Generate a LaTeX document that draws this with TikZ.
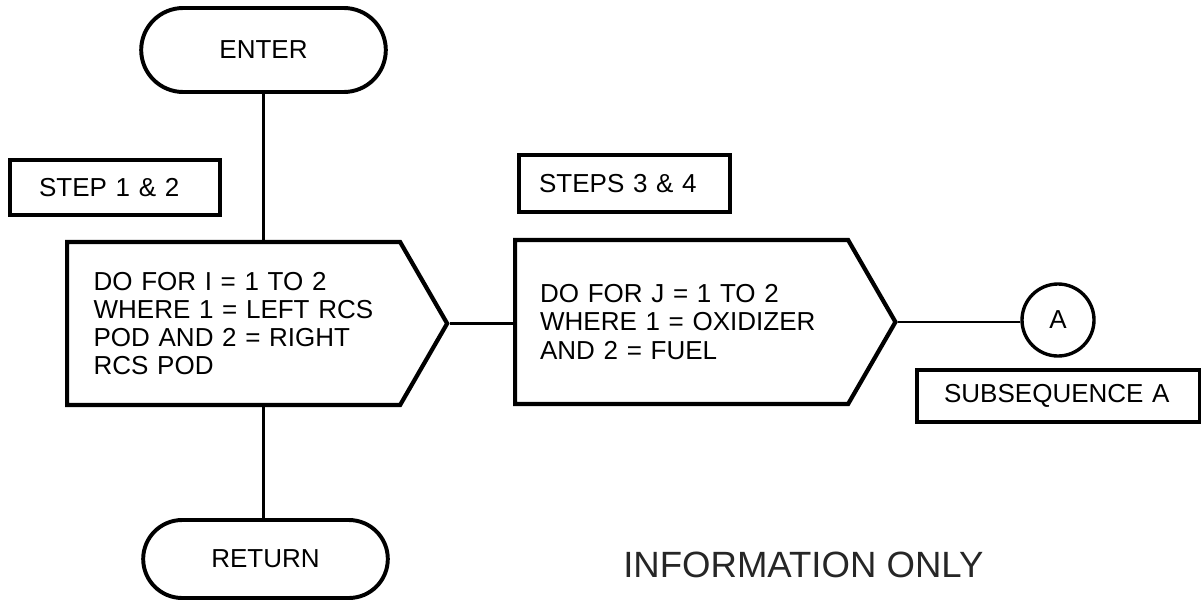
\documentclass[tikz,border=0pt]{standalone}
\usepackage{fontspec}
\setmainfont{Liberation Sans}
\usepackage{tikz}
\usetikzlibrary{shapes.geometric, shapes.symbols, shapes.misc, arrows.meta, positioning}
\tikzset{
    terminal/.style={rounded rectangle, minimum width=6.35cm, draw=black, line width=2.8pt, font=\fontsize{18.5}{20}\selectfont},
    loopbox/.style={signal, signal to=east, signal pointer angle=120, draw=black, line width=3pt, align=left, inner ysep=0pt, anchor=west, font=\fontsize{18.5}{20}\selectfont},
    stepbox/.style={rectangle, draw=black, line width=3pt, align=left, inner ysep=0pt, anchor=west, font=\fontsize{18.5}{20}\selectfont},
    connector/.style={draw=black, line width=1.6pt},
}

\begin{document}
\begin{tikzpicture}[
      connector circle/.style={draw=black, circle, line width=2.4pt, minimum size=1.8cm, inner sep=0pt, font=\fontsize{18.5}{20}\selectfont}
    ]
    \useasboundingbox (0,0) rectangle (30.025,-15.125);

    \node[terminal, minimum height=2.1cm] (enter) at (6.5875,-1.25) {ENTER};
    \node[terminal, minimum height=1.95cm] (return) at (6.6375,-13.975) {RETURN};

    \node[stepbox, text width=3.8cm, inner xsep=0.725cm, minimum height=1.375cm] (step12) at (0.2,-4.6875) {STEP 1 \& 2};
    \node[stepbox, text width=4.275cm, inner xsep=0.5cm, minimum height=1.425cm] (step34) at (12.925,-4.5875) {STEPS 3 \& 4};

    \node[loopbox, text width=7cm, inner xsep=0.6625cm, minimum height=4.075cm] (loopI) at (1.625,-8.0875)
        {DO FOR I = 1 TO 2\\WHERE 1 = LEFT RCS\\POD AND 2 = RIGHT\\RCS POD\\[-16pt]};
    \node[loopbox, text width=7.075cm, inner xsep=0.625cm, minimum height=4.1cm] (loopJ) at (12.825,-8.05)
        {DO FOR J = 1 TO 2\\WHERE 1 = OXIDIZER\\AND 2 = FUEL};

    \node[connector circle] (subA) at (26.45,-8.0) {A};
    \node[stepbox, text width=5.725cm, inner xsep=0.675cm, minimum height=1.3cm] (subseqA) at (22.875,-9.9) {SUBSEQUENCE A};

    \node[anchor=base west, inner sep=0pt, text=black!85, font=\fontsize{26}{28}\selectfont] (info) at (15.575,-14.425) {INFORMATION ONLY};

    \draw[connector] (enter.south) -- (enter.south |- loopI.north);
    \draw[connector] (enter.south |- loopI.south) -- (enter.south |- return.north);
    \draw[connector] (loopI.east) -- (loopI.east -| loopJ.west);
    \draw[connector] (loopJ.east) -- (loopJ.east -| subA.west);
\end{tikzpicture}
\end{document}
